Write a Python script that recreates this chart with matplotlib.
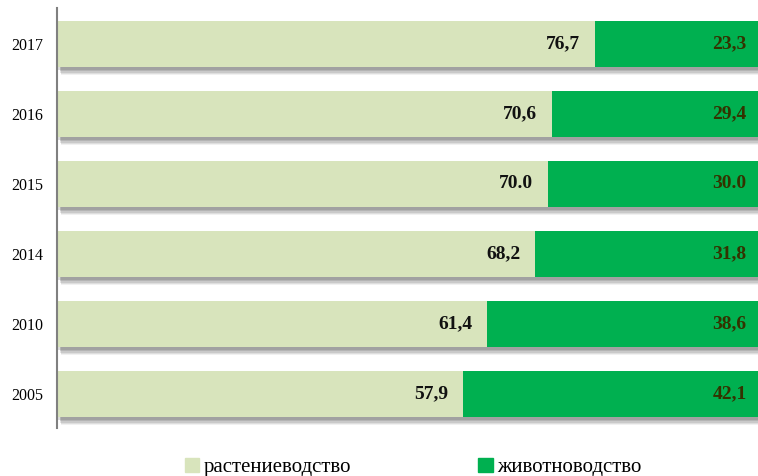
import matplotlib.pyplot as plt
import matplotlib.patheffects as pe
from matplotlib.patches import Patch

years = ['2005', '2010', '2014', '2015', '2016', '2017']
crop = [57.9, 61.4, 68.2, 70.0, 70.6, 76.7]
livestock = [42.1, 38.6, 31.8, 30.0, 29.4, 23.3]
crop_labels = ['57,9', '61,4', '68,2', '70.0', '70,6', '76,7']
livestock_labels = ['42,1', '38,6', '31,8', '30.0', '29,4', '23,3']

crop_color = '#D8E4BC'
livestock_color = '#00B050'

plt.rcParams['font.family'] = ['Liberation Serif', 'DejaVu Serif']

fig = plt.figure(figsize=(7.58, 4.76), dpi=100)
ax = fig.add_axes([57 / 758, 1 - 428 / 476, 1 - 57 / 758, 420 / 476])

# soft blurred shadow faked with a few stacked offset shadows
shadow = [pe.SimplePatchShadow(offset=(3, -6), shadow_rgbFace='#555555', alpha=0.08),
          pe.SimplePatchShadow(offset=(3, -5), shadow_rgbFace='#555555', alpha=0.12),
          pe.SimplePatchShadow(offset=(2, -4), shadow_rgbFace='#555555', alpha=0.15),
          pe.SimplePatchShadow(offset=(2, -3), shadow_rgbFace='#555555', alpha=0.18),
          pe.SimplePatchShadow(offset=(1, -2), shadow_rgbFace='#555555', alpha=0.2),
          pe.Normal()]

pos = range(len(years))
b1 = ax.barh(pos, crop, height=0.66, color=crop_color)
b2 = ax.barh(pos, livestock, left=crop, height=0.66, color=livestock_color)
for bar in list(b1) + list(b2):
    bar.set_path_effects(shadow)

for i in pos:
    ax.text(crop[i] - 2.1, i, crop_labels[i], ha='right', va='center',
            fontsize=14, fontweight='bold', color='#111111')
    ax.text(98.4, i, livestock_labels[i], ha='right', va='center',
            fontsize=14, fontweight='bold', color='#333300')

ax.set_xlim(0, 100)
ax.set_ylim(-0.486, 5.514)
ax.set_yticks(list(pos))
ax.set_yticklabels(years, fontsize=11.5)
ax.tick_params(axis='y', length=0, pad=10)
ax.set_xticks([])
for s in ['top', 'right', 'bottom']:
    ax.spines[s].set_visible(False)
ax.spines['left'].set_color('#808080')
ax.spines['left'].set_linewidth(1.5)

handles = [Patch(color=crop_color, label='растениеводство'),
           Patch(color=livestock_color, label='животноводство')]
fig.legend(handles=handles, loc='center', bbox_to_anchor=(0.545, 0.018), ncol=2,
           frameon=False, fontsize=15, handlelength=0.7, handleheight=0.7,
           handletextpad=0.2, columnspacing=6.1)

fig.savefig('out.png', dpi=100)
